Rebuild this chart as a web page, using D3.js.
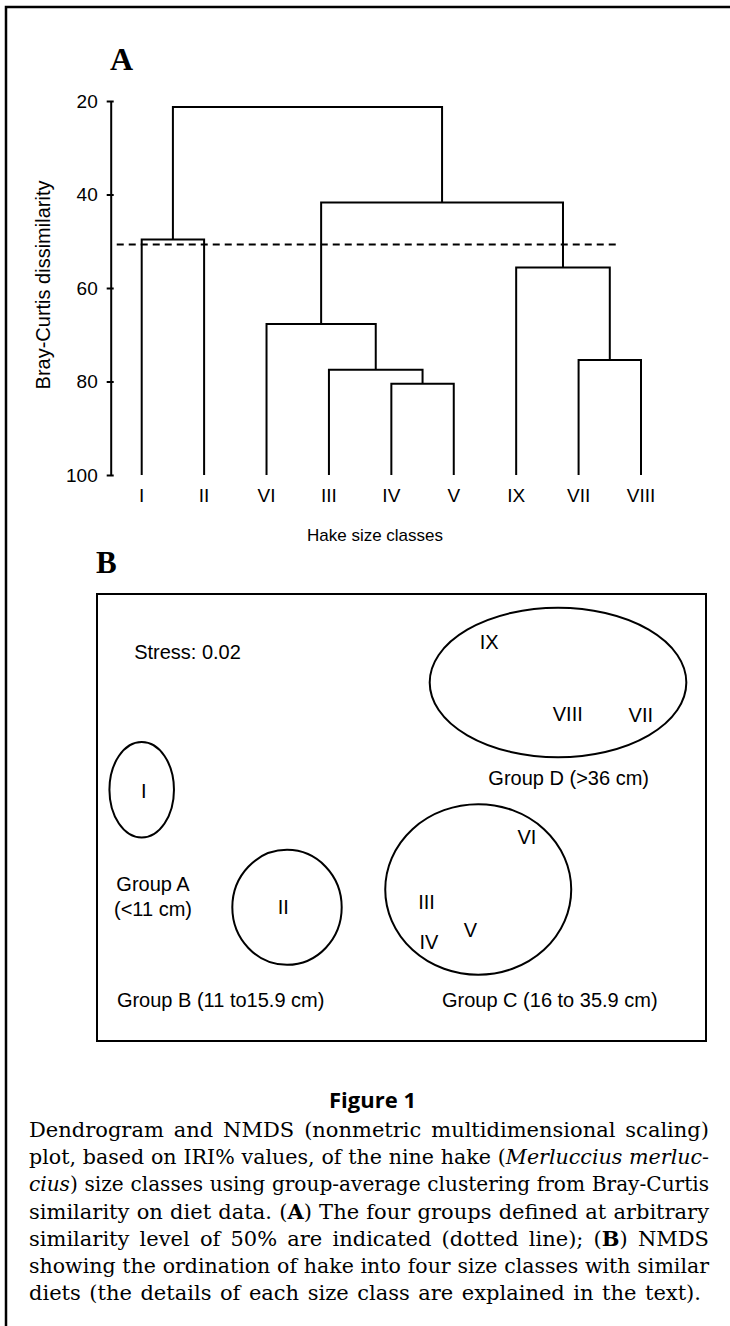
<!DOCTYPE html>
<html>
<head>
<meta charset="utf-8">
<script src="https://cdn.jsdelivr.net/npm/d3@7"></script>
<style>
  html, body { margin: 0; padding: 0; background: #fff; }
  svg { display: block; }
</style>
</head>
<body>
<div id="chart"></div>
<script>
// ---------- DATA ----------
// Panel A: dendrogram
const leaves = ["I", "II", "VI", "III", "IV", "V", "IX", "VII", "VIII"];
// merges: [leftChild, rightChild, dissimilarity]; children are leaf names or merge ids (m0, m1 ...)
const merges = [
  ["IV", "V", 80.5],      // m0
  ["III", "m0", 77.5],    // m1
  ["VII", "VIII", 75.4],  // m2
  ["VI", "m1", 67.7],     // m3
  ["IX", "m2", 55.6],     // m4
  ["I", "II", 49.6],      // m5
  ["m3", "m4", 41.7],     // m6
  ["m5", "m6", 21.3]      // m7
];
const cutLevel = 50.7;
const yTicks = [20, 40, 60, 80, 100];

// Panel B: NMDS ordination (arbitrary ordination units, 0-100 over the frame)
const nmdsLabels = ["I", "II", "III", "IV", "V", "VI", "VII", "VIII", "IX"];
const nmdsX = [7.7, 30.6, 54.1, 54.5, 61.3, 70.6, 89.3, 77.3, 64.4];
const nmdsY = [45.6, 71.6, 70.5, 79.4, 76.8, 55.9, 28.6, 28.3, 12.3];

const groupNames = ["A", "B", "C", "D"];
const groupCx = [7.34, 31.2, 62.6, 75.7];
const groupCy = [43.8, 70.1, 66.1, 19.8];
const groupRx = [5.30, 8.98, 15.27, 21.07];
const groupRy = [10.67, 12.86, 19.08, 16.71];

const groupText = [
  { lines: ["Group A", "(<11 cm)"], x: 9.2, y: [66.4, 72.0] },
  { lines: ["Group B (11 to15.9 cm)"], x: 20.3, y: [92.5] },
  { lines: ["Group C (16 to 35.9 cm)"], x: 74.35, y: [92.5] },
  { lines: ["Group D (>36 cm)"], x: 77.45, y: [42.7] }
];
const stressText = "Stress: 0.02";
const stressPos = [6.1, 14.5];

// Caption
const figTitle = "Figure 1";
const captionLines = [
  [["n", "Dendrogram and NMDS (nonmetric multidimensional scaling)"]],
  [["n", "plot, based on IRI% values, of the nine hake ("], ["i", "Merluccius merluc-"]],
  [["i", "cius"], ["n", ") size classes using group-average clustering from Bray-Curtis"]],
  [["n", "similarity on diet data. ("], ["b", "A"], ["n", ") The four groups defined at arbitrary"]],
  [["n", "similarity level of 50% are indicated (dotted line); ("], ["b", "B"], ["n", ") NMDS"]],
  [["n", "showing the ordination of hake into four size classes with similar"]],
  [["n", "diets (the details of each size class are explained in the text)."]]
];

// ---------- DRAW ----------
const W = 730, H = 1326;
const sans = "'Liberation Sans', Arial, Helvetica, sans-serif";
const serif = "'Liberation Serif', 'Times New Roman', serif";

const svg = d3.select("#chart").append("svg")
  .attr("width", W).attr("height", H);

// page frame (top + left rule)
svg.append("path")
  .attr("d", `M6,${H} V7 H${W}`)
  .attr("fill", "none").attr("stroke", "#000").attr("stroke-width", 2.5);

// ----- Panel A -----
svg.append("text").text("A")
  .attr("x", 110).attr("y", 70)
  .attr("font-family", serif).attr("font-weight", "bold").attr("font-size", 32);

const xi = d3.scaleLinear().domain([0, leaves.length - 1]).range([141.7, 641]);
const xLeaf = d3.scalePoint().domain(leaves).range([141.7, 641]);
const y = d3.scaleLinear().domain([20, 100]).range([101, 475]);

const yAxis = d3.axisLeft(y).tickValues(yTicks).tickSizeInner(4).tickSizeOuter(0).tickPadding(9);
const gAxis = svg.append("g").attr("transform", "translate(110.7,0)").call(yAxis);
gAxis.select(".domain").attr("stroke-width", 2).attr("stroke", "#000");
gAxis.selectAll(".tick line").attr("x1", 3).attr("stroke-width", 2).attr("stroke", "#000");
gAxis.selectAll(".tick text").attr("font-family", sans).attr("font-size", 19).attr("fill", "#000");

// y title
svg.append("text").text("Bray-Curtis dissimilarity")
  .attr("transform", `translate(50,${y(60) - 3}) rotate(-90)`)
  .attr("text-anchor", "middle")
  .attr("font-family", sans).attr("font-size", 20);

// dendrogram links
const node = {};
leaves.forEach(l => { node[l] = { x: xLeaf(l), h: 100 }; });
const links = [];
merges.forEach((m, i) => {
  const a = node[m[0]], b = node[m[1]], h = m[2];
  links.push({ x1: a.x, y1: a.h, x2: b.x, y2: b.h, h });
  node["m" + i] = { x: (a.x + b.x) / 2, h };
});
const gDen = svg.append("g").attr("fill", "none").attr("stroke", "#000").attr("stroke-width", 2);
gDen.selectAll("path").data(links).join("path")
  .attr("d", d => `M${d.x1},${y(d.y1)} V${y(d.h)} H${d.x2} V${y(d.y2)}`);

// cut line
svg.append("line")
  .attr("x1", xi(-0.4)).attr("x2", xi(7.63))
  .attr("y1", y(cutLevel)).attr("y2", y(cutLevel))
  .attr("stroke", "#000").attr("stroke-width", 2).attr("stroke-dasharray", "7,5");

// leaf labels
svg.append("g").selectAll("text").data(leaves).join("text")
  .text(d => d)
  .attr("x", d => xLeaf(d)).attr("y", 501.5)
  .attr("text-anchor", "middle")
  .attr("font-family", sans).attr("font-size", 19);

svg.append("text").text("Hake size classes")
  .attr("x", 375).attr("y", 541)
  .attr("text-anchor", "middle")
  .attr("font-family", sans).attr("font-size", 17);

// ----- Panel B -----
svg.append("text").text("B")
  .attr("x", 96).attr("y", 573)
  .attr("font-family", serif).attr("font-weight", "bold").attr("font-size", 31);

const xB = d3.scaleLinear().domain([0, 100]).range([97, 706]);
const yB = d3.scaleLinear().domain([0, 100]).range([594, 1041]);

svg.append("rect")
  .attr("x", xB(0)).attr("y", yB(0))
  .attr("width", xB(100) - xB(0)).attr("height", yB(100) - yB(0))
  .attr("fill", "none").attr("stroke", "#000").attr("stroke-width", 2);

svg.append("g").selectAll("ellipse").data(groupNames).join("ellipse")
  .attr("cx", (d, i) => xB(groupCx[i]))
  .attr("cy", (d, i) => yB(groupCy[i]))
  .attr("rx", (d, i) => xB(groupRx[i]) - xB(0))
  .attr("ry", (d, i) => yB(groupRy[i]) - yB(0))
  .attr("fill", "none").attr("stroke", "#000").attr("stroke-width", 2);

svg.append("g").selectAll("text").data(nmdsLabels).join("text")
  .text(d => d)
  .attr("x", (d, i) => xB(nmdsX[i]))
  .attr("y", (d, i) => yB(nmdsY[i]))
  .attr("text-anchor", "middle")
  .attr("font-family", sans).attr("font-size", 20);

groupText.forEach(g => {
  g.lines.forEach((ln, j) => {
    svg.append("text").text(ln)
      .attr("x", xB(g.x)).attr("y", yB(g.y[j]))
      .attr("text-anchor", "middle")
      .attr("font-family", sans).attr("font-size", 20);
  });
});

svg.append("text").text(stressText)
  .attr("x", xB(stressPos[0])).attr("y", yB(stressPos[1]))
  .attr("font-family", sans).attr("font-size", 20);

// ----- Caption -----
svg.append("text").text(figTitle)
  .attr("x", 372.5).attr("y", 1108)
  .attr("text-anchor", "middle")
  .attr("font-family", "'Open Sans', sans-serif").attr("font-weight", "bold").attr("font-size", 22);

const capLeft = 29, capTop = 1137, capStep = 27.2, capFont = 21;
const capWidths = [680, 680, 680, 680, 680, 680, 672];
captionLines.forEach((segs, i) => {
  const t = svg.append("text")
    .attr("x", capLeft).attr("y", capTop + i * capStep)
    .attr("font-family", "'DejaVu Serif', serif").attr("font-size", capFont)
    .attr("xml:space", "preserve");
  segs.forEach(s => {
    const ts = t.append("tspan").text(s[1]);
    if (s[0] === "i") ts.attr("font-style", "italic");
    if (s[0] === "b") ts.attr("font-weight", "bold");
  });
  // justify: shrink the line if too long, then widen word gaps to fill the measure
  const target = capWidths[i];
  let natural = t.node().getComputedTextLength();
  if (natural > target) {
    t.attr("font-size", capFont * (target - 2) / natural);
    natural = t.node().getComputedTextLength();
  }
  const nSpaces = segs.map(s => s[1]).join("").split(" ").length - 1;
  if (natural < target && nSpaces > 0) {
    t.style("word-spacing", ((target - natural) / nSpaces) + "px");
  }
});
</script>
</body>
</html>
